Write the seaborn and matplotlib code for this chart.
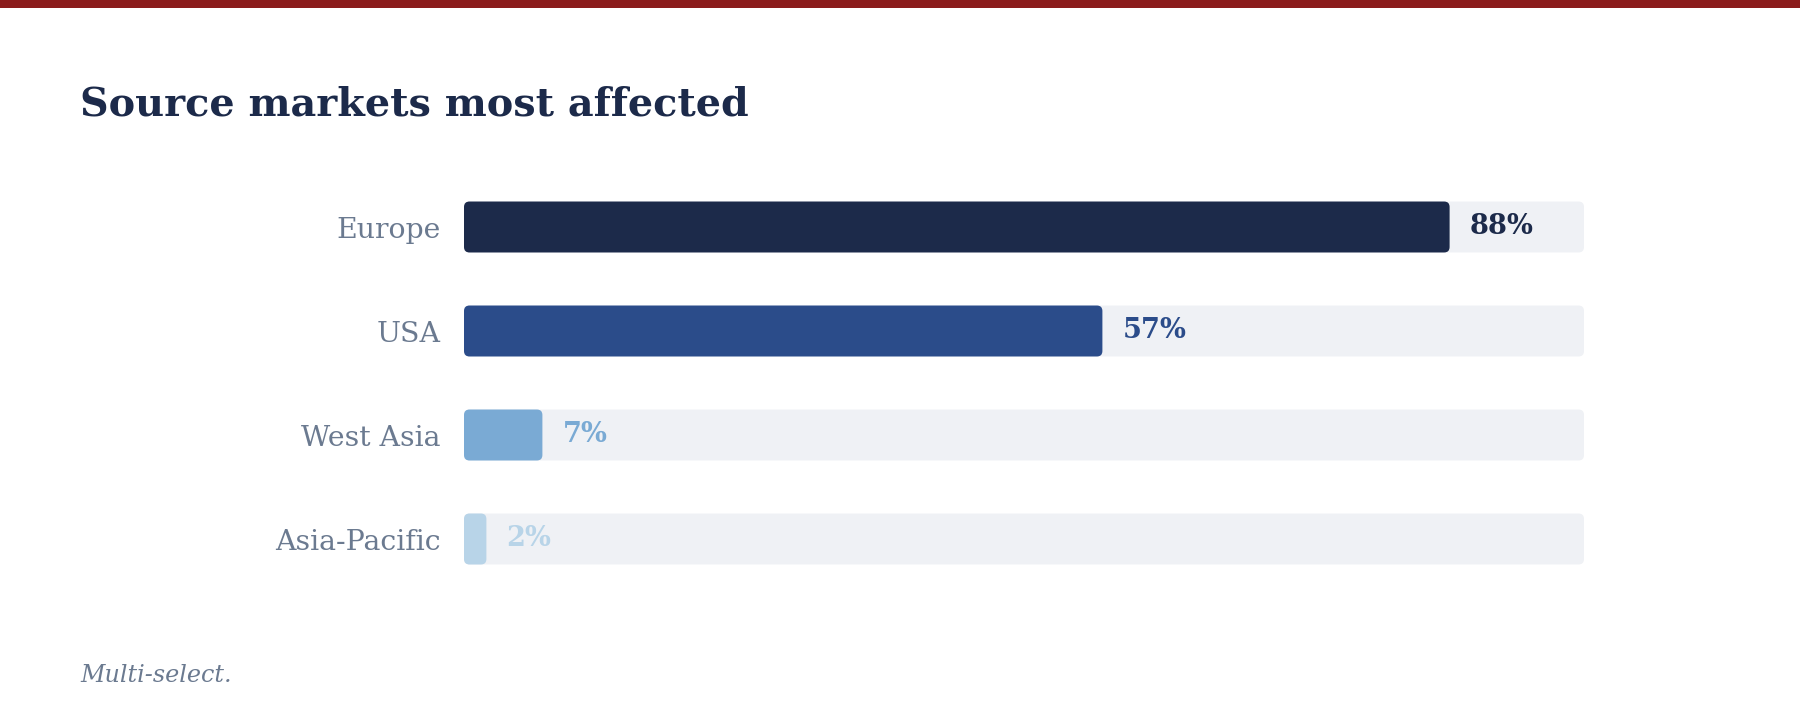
import seaborn as sns
import matplotlib.pyplot as plt
from matplotlib.patches import FancyBboxPatch, Rectangle

categories = ['Europe', 'USA', 'West Asia', 'Asia-Pacific']
values = [88, 57, 7, 2]
value_labels = ['88%', '57%', '7%', '2%']
bar_colors = ['#1c2a4a', '#2b4c8a', '#7aaad4', '#b8d4e8']
track_max = [100, 100, 100, 100]

title = 'Source markets most affected'
note = 'Multi-select.'

sns.set_theme(style='white')
plt.rcParams['font.family'] = ['DejaVu Serif']

W, H = 1800, 716
fig = plt.figure(figsize=(W / 100, H / 100), dpi=100)
ax = fig.add_axes([464 / W, 1 - 591 / H, 1120 / W, 416 / H])

sns.barplot(x=track_max, y=categories, color='#eff1f5', width=0.49,
            saturation=1, ax=ax)
sns.barplot(x=values, y=categories, hue=categories, palette=bar_colors,
            width=0.49, saturation=1, legend=False, ax=ax)

ax.set_xlim(0, 100)
ax.set_ylim(3.5, -0.5)

# swap square bars for rounded ones, same geometry
px_x = 1120 / 100
px_y = 416 / 4
radius = 5.5
for p in list(ax.patches):
    x0, y0 = p.get_x(), p.get_y()
    w, h = p.get_width(), p.get_height()
    r = min(radius / px_x, w / 2)
    rp = FancyBboxPatch((x0, y0), w, h,
                        boxstyle='round,pad=0,rounding_size=%f' % r,
                        mutation_aspect=px_x / px_y,
                        facecolor=p.get_facecolor(), edgecolor='none',
                        zorder=p.get_zorder())
    p.remove()
    ax.add_patch(rp)

for i, (v, lab, c) in enumerate(zip(values, value_labels, bar_colors)):
    ax.text(v + 20 / px_x, i, lab, ha='left', va='center', color=c,
            fontsize=19.6, fontweight='bold')

sns.despine(ax=ax, left=True, bottom=True)
ax.set_xticks([])
ax.set_xlabel('')
ax.set_ylabel('')
ax.tick_params(axis='y', length=0, pad=17, labelsize=20.4, labelcolor='#6b7a90')

fig.patches.append(Rectangle((0, 1 - 8 / H), 1, 8 / H, transform=fig.transFigure,
                             facecolor='#8b1c1c', edgecolor='none'))
fig.text(80 / W, 1 - 105 / H, title, ha='left', va='center', fontsize=28.6,
         fontweight='bold', color='#1c2a4a')
fig.text(80 / W, 1 - 675 / H, note, ha='left', va='center', fontsize=17.2,
         style='italic', color='#6b7a90')

fig.savefig('out.png', dpi=100, facecolor='white')
